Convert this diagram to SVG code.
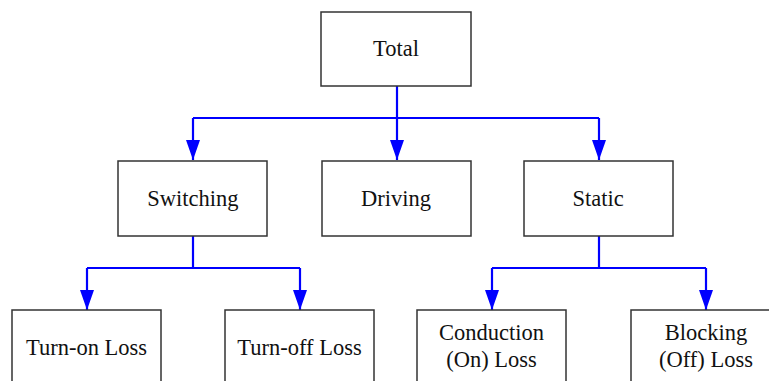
<svg xmlns="http://www.w3.org/2000/svg" width="769" height="381" viewBox="0 0 769 381">
<style>
.box{fill:#fff;stroke:#333;stroke-width:1.5}
.t{font-family:"Liberation Serif","Times New Roman",serif;font-size:22.5px;fill:#111;text-anchor:middle}
.c{fill:none;stroke:#0000ff;stroke-width:2.2}
</style>
<defs>
<marker id="ah" markerUnits="userSpaceOnUse" markerWidth="20" markerHeight="14" refX="20" refY="7" orient="auto" viewBox="0 0 20 14">
<path d="M0,0 L20,7 L0,14 Z" fill="#0000ff"/>
</marker>
</defs>
<rect width="769" height="381" fill="#fff"/>
<g id="connectors">
<path class="c" d="M397,86 V118"/>
<path class="c" d="M193,118 H599"/>
<path class="c" d="M193,118 V160" marker-end="url(#ah)"/>
<path class="c" d="M397,118 V160" marker-end="url(#ah)"/>
<path class="c" d="M599,118 V160" marker-end="url(#ah)"/>
<path class="c" d="M193,236 V268"/>
<path class="c" d="M87,268 H300"/>
<path class="c" d="M87,268 V310" marker-end="url(#ah)"/>
<path class="c" d="M300,268 V310" marker-end="url(#ah)"/>
<path class="c" d="M599,236 V268"/>
<path class="c" d="M492,268 H706"/>
<path class="c" d="M492,268 V310" marker-end="url(#ah)"/>
<path class="c" d="M706,268 V310" marker-end="url(#ah)"/>
</g>
<g id="total"><rect class="box" x="321" y="12" width="150" height="74"/><text class="t" x="396" y="56">Total</text></g>
<g id="switching"><rect class="box" x="118" y="161" width="149" height="75"/><text class="t" x="193" y="206">Switching</text></g>
<g id="driving"><rect class="box" x="322" y="161" width="149" height="75"/><text class="t" x="396" y="206">Driving</text></g>
<g id="static"><rect class="box" x="524" y="161" width="149" height="75"/><text class="t" x="598" y="206">Static</text></g>
<g id="turnon"><rect class="box" x="12" y="310" width="149" height="76"/><text class="t" x="86.5" y="355">Turn-on Loss</text></g>
<g id="turnoff"><rect class="box" x="225" y="310" width="149" height="76"/><text class="t" x="299.5" y="355">Turn-off Loss</text></g>
<g id="conduction"><rect class="box" x="417" y="310" width="149" height="76"/><text class="t" x="491.5" y="340">Conduction</text><text class="t" x="491.5" y="367">(On) Loss</text></g>
<g id="blocking"><rect class="box" x="631" y="310" width="150" height="76"/><text class="t" x="706" y="340">Blocking</text><text class="t" x="706" y="367">(Off) Loss</text></g>
</svg>
